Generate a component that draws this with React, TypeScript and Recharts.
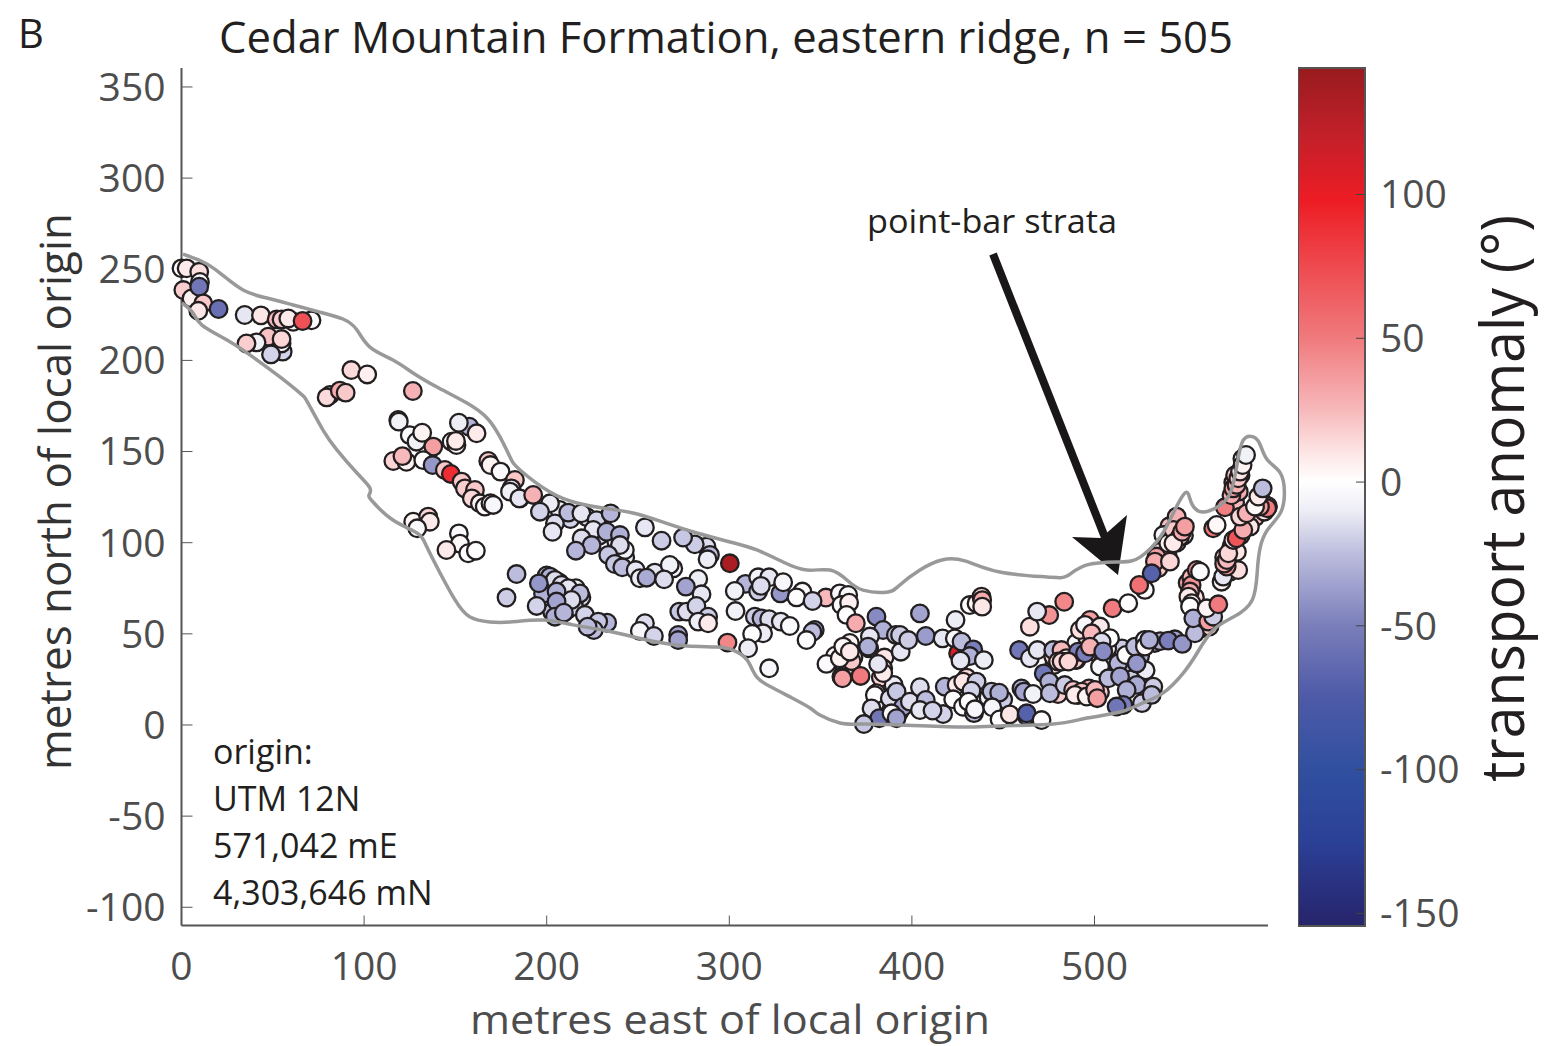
import {
  Bar,
  BarChart,
  ReferenceLine,
  Scatter,
  ScatterChart,
  XAxis,
  YAxis,
} from "recharts";

type Obs = [number, number, number]; // east, north, transport anomaly

const FONT = "'Open Sans', sans-serif";
const INK = "#231f20";
const AXIS_GREY = "#4d4d4d";

const EAST_TICKS = [0, 100, 200, 300, 400, 500];
const NORTH_TICKS = [-100, -50, 0, 50, 100, 150, 200, 250, 300, 350];
const ANOMALY_TICKS = [-150, -100, -50, 0, 50, 100];
const ORIGIN_NOTE = ["origin:", "UTM 12N", "571,042 mE", "4,303,646 mN"];

// anomaly value -> colour
const COLOR_VALUES = [144, 120, 98, 75, 50, 25, 10, 0, -10, -25, -50, -75, -100, -125, -154.4];
const COLOR_STOPS = [
  "#981b1e", "#c4202a", "#ed1c24", "#ee4a4f", "#f07a7d", "#f7b9bb", "#fde6e6", "#ffffff",
  "#ededf6", "#bcbddd", "#7a7eba", "#4d5aa8", "#30509f", "#2b4097", "#27246b",
];

// the crowded stretches, mostly hidden behind the points listed after them
const crowdedBehind: Obs[] = [
  [200, 82, -25], [203, 80, -20], [207, 78, -12], [213, 74, -20], [216, 75, -10], [219, 70, -15],
  [202, 70, -25], [207, 65, -20], [211, 63, -22], [215, 65, -18], [198, 72, -30], [203, 62, -25],
  [207, 118, -10], [222, 114, -12], [213, 113, -18], [229, 104, -18], [238, 101, -12], [243, 92, -10],
  [366, 45, 5], [368, 37, 8], [365, 33, 15], [358, 38, 3], [363, 30, 12], [367, 35, 20],
  [385, 37, 10], [383, 26, 15], [390, 22, -10], [386, 9, -10], [393, 7, -25], [380, 12, -5],
  [430, 26, 15], [426, 19, 5], [437, 12, -10], [442, 15, -8], [450, 14, -20], [460, 20, -30],
  [478, 33, 12], [486, 40, 15], [490, 45, -5], [496, 48, 10], [500, 40, 20], [505, 36, -15],
  [510, 38, -25], [512, 29, -20], [518, 30, -28], [520, 25, -20], [525, 38, -30], [528, 30, -10],
  [533, 45, -25], [515, 42, -20], [480, 17, 18], [497, 20, 30], [503, 18, 20], [507, 42, 8],
  [528, 20, -15], [526, 12, -20], [536, 46, -30], [544, 47, -35], [536, 95, 12], [540, 93, 25],
  [545, 100, 15], [541, 109, 25], [547, 110, 22], [535, 86, 20], [549, 104, 12], [551, 78, 35],
  [553, 81, 25], [555, 70, 12], [556, 62, -20], [558, 53, -30], [560, 59, 10], [563, 54, 20],
  [571, 92, 20], [574, 84, 15], [575, 98, 22], [578, 95, 10], [580, 104, 50], [583, 110, 15],
  [577, 122, 25], [576, 133, 15], [577, 137, 25], [579, 128, 30], [581, 146, -5], [580, 137, 8],
  [588, 114, 20], [592, 122, 15], [593, 117, 10], [595, 120, 40],
];

const westEnd: Obs[] = [
  [0, 250.5, 1], [2.8, 250.5, 8], [9.7, 248.6, 12], [10.1, 243, -5], [1, 238.6, 18], [5.5, 234, 6],
  [9.7, 240.4, -55], [11.9, 231.3, 20], [9.2, 227.2, 10], [20.3, 228.2, -60], [34.6, 224.9, -12], [43.5, 224.7, 10],
  [52.1, 222.5, 25], [54.8, 222.5, 18], [61.2, 221.2, 5], [58.5, 223, 8], [71.2, 222, 1], [66.3, 221.6, 72],
  [55.4, 204.8, -18], [54.8, 209.3, -3], [47.5, 213, 22], [41.1, 209.9, -8], [35.6, 209.3, 18], [49, 203.3, -18],
  [54.8, 211.7, 15], [93, 194.7, 14], [101.7, 192.3, 6], [81.3, 181, 5], [79.5, 179.7, 14], [86.7, 183.4, 30],
  [89.9, 182.3, 20], [126.7, 183.2, 28],
];

const upperBend: Obs[] = [
  [118.7, 167.3, -8], [119, 166.4, -8], [125, 159, -2], [128.7, 155.4, -8], [131.8, 160.3, 5], [137.9, 152.7, 35],
  [116, 144.8, 16], [123.2, 144.4, 5], [121, 147.5, 25], [132.4, 145.3, 1], [137.5, 142.6, -40], [144.2, 139.9, 20],
  [147.5, 137.7, 90], [153.4, 133.5, 20], [157.6, 163.6, -28], [161.6, 160, 8], [151.9, 165.8, -10], [147.9, 155.4, 1],
  [150.6, 153.6, 2], [150.3, 155.8, 8], [168, 144.8, 20], [169.2, 142.6, 5], [174.7, 139, -3], [182.6, 134.4, 20],
  [180.7, 129.8, -12], [185.3, 124.3, -10], [155.2, 129.8, 18], [160.7, 128.9, 20], [159, 124.3, 15], [163.4, 121.6, 5],
  [166.1, 119.8, 1], [169.2, 121.6, -3], [170.7, 120.7, -5],
];

const lowerBend: Obs[] = [
  [126.9, 111.5, 4], [135.1, 114.3, 16], [136, 111.5, 8], [129.1, 107.9, -3], [151.9, 105.1, -2], [152.5, 99.5, 2],
  [145.1, 96, 9], [157, 94.2, 1], [161.2, 95.6, -1],
];

const midUpper: Obs[] = [
  [179.9, 128, -8], [185, 124.3, -12], [192.6, 126.2, 28], [201.8, 121.6, -10], [196.3, 117, -18], [204.5, 110.6, -15],
  [203.2, 106, -12], [211.8, 116.5, -25], [219, 116.1, -12], [227.3, 112.4, -18], [235, 116.1, -28], [225.5, 107, -12],
  [232.8, 106, -30], [240.1, 104.2, -30], [219.1, 102.4, -15], [224.6, 98.7, -28], [216, 95.6, -28], [242.8, 96, -8],
  [240.1, 98.7, -15], [233.7, 93.3, -22], [237.3, 88.3, -22], [241.4, 86.5, -25], [248.7, 85, -12], [251, 80.5, -10],
  [259.2, 83.6, -12], [254.7, 80.8, -32], [269.3, 85.9, -5], [267.4, 87.8, -8], [264.3, 79.9, -15], [253.8, 108.4, -12],
  [262.9, 101.1, -20], [287.5, 97.8, -15], [281.1, 99.1, -20], [274.7, 102.8, -22], [289.4, 93.3, -25], [288.1, 90.9, -10],
  [300.3, 88.7, 135],
];

const midLower: Obs[] = [
  [183.5, 82.8, -25], [178, 69.9, -20], [201.8, 81.4, -30], [204.5, 79.6, -15], [195.7, 77.7, -40], [208.1, 76.8, -15],
  [211.8, 75, -12], [218.2, 72.2, -25], [205.4, 73.2, -30], [213.6, 68.6, -15], [194.5, 65.3, -18], [205.4, 67.7, -35],
  [204.5, 59.4, -30], [209.4, 61.6, -28], [220.9, 60.4, -18], [233.1, 56.1, -28], [228.2, 56.7, -22], [225.8, 52.1, -25],
  [222.4, 53.9, -25], [253.8, 55.8, -15], [251, 51.6, -5], [258.7, 48.8, -18], [272, 49.4, -35], [272, 46.6, -35],
];

const centreReach: Obs[] = [
  [283, 80.1, -10], [276.2, 75.9, -35], [284.8, 71.7, -12], [272.6, 62.2, -22], [276.6, 62.2, -15], [282, 65.3, -18],
  [288.4, 59.4, -20], [283, 56.7, -10], [288.4, 55.8, 8], [299, 45.2, 45], [308.9, 77.4, -28], [303, 73.5, -8],
  [315.8, 81, -8], [321.8, 81, -12], [315.8, 73.2, -20], [317.3, 76.3, -15], [328, 72.2, -40], [329.5, 78.3, -5],
  [340, 73.2, -2], [336.8, 70, -1], [352.9, 69.9, 25], [345.6, 68, -18], [360.5, 72.2, -5], [365.1, 71.3, -3],
  [361.4, 65.8, -2], [365.6, 67.1, 6], [364.2, 60.4, 0], [303.4, 62.5, -8], [314, 59.4, -20], [317.6, 58.5, -28],
  [321.8, 58, -15], [328.2, 56.7, -12], [333.1, 54.3, -2], [318.5, 50.3, -10], [312.5, 49.9, -1], [346.8, 52.1, -40],
  [345.5, 51, -25], [342.3, 46.6, -2], [310.3, 42.1, -10], [321.8, 31.1, -5],
];

const scrollBarWest: Obs[] = [
  [369.3, 55.8, 30], [380.6, 59.4, -45], [384.2, 52.1, -30], [377, 48.5, -12], [376.6, 42, -25], [376, 43, -30],
  [353.2, 33.5, -2], [360.5, 36.6, 5], [362.4, 43, 3], [366, 40.2, 9], [361.4, 26.5, 40], [362, 25.6, 35],
  [371.9, 26.9, 50], [384.3, 31.1, 20], [384.3, 28.5, 8], [381.5, 33.5, -12], [380.6, 17.4, -1], [379.7, 16.4, 0],
  [387.9, 14.6, -15], [391.6, 18.3, -22], [377.9, 9.1, -15], [382.1, 3.7, -55], [395.2, 10, -35], [398.9, 12.8, -15],
  [388.8, 6.4, -3], [391.6, 3.7, -35], [373.7, 0.5, -22],
];

const scrollBarCentre: Obs[] = [
  [404.4, 61.2, -35], [393.9, 40.2, -12], [391.2, 49.4, -25], [393.5, 49.4, -20], [398, 46.6, -20], [407.6, 48.8, -38],
  [416.8, 47.5, -12], [423.9, 57.6, -10], [423.5, 47.5, -5], [425.3, 39.3, 110], [427.2, 45.7, -25], [433.6, 41.5, -50],
  [431.7, 37.8, -30], [426.6, 35.3, -12], [439.4, 35.6, -10], [431.7, 65.8, 1], [435.4, 66.7, 5], [438.1, 70.4, 15],
  [438.5, 68.5, 30], [438.5, 64.9, 10], [404.4, 20.7, -15], [407.6, 13.7, -25], [404.4, 8.2, -12], [417.1, 6, -18],
  [411.3, 7.9, -18], [418, 21, -28], [424.5, 22, 8], [428.1, 23.8, 10], [435.4, 23.8, -20], [422.6, 14.1, 1],
  [428, 10, -2], [434, 6.5, -25], [432.6, 18.8, -18], [431, 12.8, 1], [434.5, 8.6, -5],
];

const scrollBarEast: Obs[] = [
  [443.6, 18.3, -25], [447.8, 17.7, -30], [444, 9.7, -5], [448, 3, 1], [453.6, 5.8, 10], [461.3, 18.3, -35],
  [466.4, 17, -8], [462.8, 5, -55], [462.9, 6.4, -70], [471, 2.7, 1], [458.7, 41.1, -55], [464.6, 36.6, -12],
  [468.8, 41.1, -12], [464.6, 53.9, 12], [475.2, 60.3, 40], [468.6, 62.2, -12], [483.4, 67.6, 45], [477.4, 37.5, 20],
  [477.4, 41.1, -25], [481.9, 41.1, 25], [480, 34.8, 15], [484.6, 36.6, 8], [490.1, 35.6, 10], [489.3, 35.7, 20],
  [491, 40.2, -50], [472.2, 28.3, -55], [475.2, 23.8, -30], [475.6, 17.4, -25], [483.7, 21.9, -20], [488.3, 19.2, 22],
  [491, 16.4, 22], [493, 18.3, 20], [489.3, 16.5, 8], [495.7, 15.6, 5], [500.3, 19.2, 25], [501.5, 14.7, 35],
];

const pointBarLobe: Obs[] = [
  [492, 52.1, 12], [497.5, 57.6, 35], [494.8, 54.9, -5], [503, 54, 8], [498.4, 50.3, 25], [508.5, 47.6, 0],
  [503.9, 45.7, -15], [494.8, 39.3, -50], [497.5, 43, 28], [482, 34.8, 15], [485.7, 34.8, 15], [503, 32, -5],
  [504.8, 40.3, -45], [507.6, 25.6, -25], [513, 33.8, -28], [517.2, 38.4, 1], [514, 26.6, -35], [522.2, 43, -25],
  [523.1, 33.8, -40], [527.6, 46.7, -5], [527.6, 43, 3], [530, 46.7, -30], [540.4, 46.3, -50], [548.1, 44.5, -40],
  [555, 50.3, -25], [523.1, 22, -32], [532.2, 21, -20], [531.3, 16.5, -25], [517.6, 19.2, -30], [515.8, 11, -50],
  [512.1, 10.1, -55],
];

const eastLimbUpper: Obs[] = [
  [509.9, 64, 50], [518.5, 66.8, 1], [527.6, 74.1, 1], [524.5, 76.8, 55], [534, 92.4, 35], [533.1, 89.6, 30],
  [531.3, 83.2, -70], [541.3, 89.6, 15], [537.7, 104.2, -5], [540.4, 99.7, 5], [545, 114.3, 28], [543.2, 107, 20],
  [546.8, 103.3, 20], [543.2, 99.7, 8], [548, 106, 30], [549.5, 108.8, 35],
];

const eastLimb: Obs[] = [
  [553.2, 76.8, 40], [552.3, 73.2, 30], [551.4, 70.4, 8], [553.2, 66.8, -8], [552.3, 65, 0], [554.1, 58.5, -30],
  [562.3, 56.7, 35], [565, 59.4, -20], [561.4, 64, 5], [567.8, 66.2, 50], [556, 85, 40], [557.8, 84.1, -2],
  [569.6, 78.6, 5], [570.5, 81.4, -12], [578.7, 85, 12], [572.4, 86.9, 40], [571, 88.5, 30], [572.5, 90.5, 25],
  [573.3, 94.2, 15], [576, 101.5, 10], [577.8, 102.4, 70], [585.1, 108.8, 10], [581.5, 107, 30], [565, 107.9, 50],
  [566.9, 109.7, 3], [579.7, 114.3, 15], [583.3, 116.1, 28], [594.6, 118.9, 50], [590.6, 119.8, 35], [587.9, 119.8, 2],
  [589.7, 125.3, 8], [592.1, 129.8, -25], [571.4, 119.4, 48], [575, 126, 30], [576, 129.8, 35], [577.8, 131.7, 28],
  [578.7, 135.3, 20], [579.7, 139, 10], [581.1, 142.6, 5], [583, 148.1, -8],
];

const OBSERVATIONS: Obs[] = [
  ...crowdedBehind, ...westEnd, ...upperBend, ...lowerBend, ...midUpper, ...midLower, ...centreReach,
  ...scrollBarWest, ...scrollBarCentre, ...scrollBarEast, ...pointBarLobe, ...eastLimbUpper, ...eastLimb,
];

const OUTLINE: [number, number][] = [
  [0.8, 258.3], [11.8, 254], [21.1, 247.9], [33.7, 238.6], [46.8, 234.2], [61.1, 230.4], [75.8, 226.5], [88.4, 222.7],
  [96.1, 216.7], [103.2, 207.3], [115.8, 200.2], [126.8, 193.1], [139.9, 185.4], [156.3, 176.6], [167.3, 168.4],
  [174.4, 158], [179.9, 147], [185.4, 139.9], [201.8, 127.8], [216.6, 121.8], [230.8, 119], [247.2, 116.3],
  [263.7, 111.3], [282.3, 105.3], [300.4, 100.4], [315.1, 96], [329.4, 89.4], [342.5, 85], [355.1, 85], [364.4, 79.5],
  [373.2, 74], [386.9, 73], [393.4, 76.8], [404.4, 85], [416.4, 90.5], [429, 90], [448.2, 83.9], [474, 81.2],
  [484.9, 81.7], [495.9, 87.8], [514, 89.4], [525, 92.1], [536, 103.1], [543.2, 116.3], [548.6, 126.2], [551.4, 126.7],
  [553.6, 120.7], [559.1, 116.8], [567.3, 119.6], [574.4, 127.3], [578.2, 143.7], [581.5, 156.3], [587, 158],
  [590.8, 153.6], [594.7, 145.4], [601.8, 138.2], [604, 127.3], [601.8, 116.3], [594.7, 107], [590.8, 97.6], [589.2, 85],
  [586.4, 68.6], [576, 59.2], [565, 52.1], [556.2, 39.5], [548.6, 28.5], [537.6, 17.6], [526.6, 12.1], [514, 7.1],
  [495.9, 3.8], [477.3, 0.5], [448.2, -0.5], [426.3, -1.1], [393.4, 0], [371.5, 0.5], [360.6, 1.1], [349.6, 5.5],
  [344.2, 9.3], [333.2, 15.4], [323.9, 20.3], [315.1, 26.3], [309.7, 35.7], [302, 41.1], [293.2, 42.8], [276.8, 43.3],
  [260.4, 45.5], [245.6, 48.8], [230.8, 52.1], [214.4, 54.9], [198, 57.6], [179.9, 56.5], [168.9, 56.5], [158, 59.2],
  [149.8, 68.6], [141.6, 83.4], [134.4, 97.6], [129, 105.3], [115.8, 112.4], [104.9, 122.3], [102.7, 126.2], [103.2, 130],
  [96.1, 138.2], [85.2, 150.8], [77.5, 161.8], [69.3, 176.6], [64.9, 182.1], [53.9, 190.9], [39.2, 201.8], [24.9, 211.2],
  [11.2, 219.4], [6.3, 226], [0.3, 231.5],
];

const points = OBSERVATIONS.map(([east, north, anomaly]) => ({ east, north, anomaly }));
const outline = OUTLINE.map(([east, north]) => ({ east, north }));
const barData = [{ name: "transport anomaly", span: [COLOR_VALUES[COLOR_VALUES.length - 1], COLOR_VALUES[0]] }];

function hexToRgb(hex: string) {
  return [1, 3, 5].map((i) => parseInt(hex.slice(i, i + 2), 16));
}

function anomalyColor(v: number): string {
  for (let i = 1; i < COLOR_VALUES.length; i++) {
    if (v >= COLOR_VALUES[i]) {
      const t = (v - COLOR_VALUES[i]) / (COLOR_VALUES[i - 1] - COLOR_VALUES[i]);
      const a = hexToRgb(COLOR_STOPS[i]);
      const b = hexToRgb(COLOR_STOPS[i - 1]);
      return `rgb(${a.map((c, k) => Math.round(c + (b[k] - c) * t)).join(",")})`;
    }
  }
  return COLOR_STOPS[COLOR_STOPS.length - 1];
}

function Dot(props: any) {
  return (
    <circle
      cx={props.cx}
      cy={props.cy}
      r={8.8}
      fill={anomalyColor(props.payload.anomaly)}
      stroke={INK}
      strokeWidth={2.3}
    />
  );
}

export default function App() {
  const tick = { fill: AXIS_GREY, fontSize: 39, fontFamily: FONT };
  return (
    <div style={{ position: "absolute", left: 0, top: 0, width: 1558, height: 1046, background: "#fff" }}>
      <div style={{ position: "absolute", left: 0, top: 0 }}>
        <ScatterChart width={1558} height={1046} margin={{ top: 68, right: 273.6, bottom: 0, left: 0 }}>
          <XAxis
            type="number"
            dataKey="east"
            domain={[0, 604]}
            ticks={EAST_TICKS}
            height={120.5}
            axisLine={false}
            tickSize={-10}
            tickMargin={37}
            tick={tick}
            stroke="#555"
            interval={0}
          />
          <YAxis
            type="number"
            dataKey="north"
            domain={[-110, 360.4]}
            ticks={NORTH_TICKS}
            width={181.5}
            axisLine={{ stroke: "#555", strokeWidth: 2 }}
            tickSize={-11}
            tickMargin={27}
            tick={tick}
            stroke="#555"
            interval={0}
          />
          <ReferenceLine
            segment={[{ x: 0, y: -110 }, { x: 595, y: -110 }]}
            stroke="#555"
            strokeWidth={2}
          />
          <Scatter data={points} shape={Dot} isAnimationActive={false} />
          <Scatter
            data={outline}
            line={{ stroke: "#999999", strokeWidth: 3.5 }}
            lineJointType="natural"
            shape={() => <g />}
            isAnimationActive={false}
          />

          <line x1={993} y1={254} x2={1106} y2={540} stroke="#1a1718" strokeWidth={8} />
          <polygon points="1118,575 1072,537 1101,538 1127,515" fill="#1a1718" />

          <text x={18} y={48} fontFamily={FONT} fontSize={40} fill={INK}>B</text>
          <text x={219} y={53} fontFamily={FONT} fontSize={44} fill={INK} textLength={1014} lengthAdjust="spacingAndGlyphs">
            Cedar Mountain Formation, eastern ridge, n = 505
          </text>
          <text x={867} y={233} fontFamily={FONT} fontSize={33} fill={INK} textLength={250} lengthAdjust="spacingAndGlyphs">
            point-bar strata
          </text>
          {ORIGIN_NOTE.map((line, i) => (
            <text key={line} x={213} y={764 + i * 47} fontFamily={FONT} fontSize={34} fill={INK}>
              {line}
            </text>
          ))}
          <text x={470} y={1034} fontFamily={FONT} fontSize={41} fill={AXIS_GREY} textLength={520} lengthAdjust="spacingAndGlyphs">
            metres east of local origin
          </text>
          <text
            transform="translate(71 770) rotate(-90)"
            fontFamily={FONT}
            fontSize={44}
            fill="#333"
            textLength={557}
            lengthAdjust="spacingAndGlyphs"
          >
            metres north of local origin
          </text>
          <text
            transform="translate(1524 782) rotate(-90)"
            fontFamily={FONT}
            fontSize={60}
            fill={INK}
            textLength={567}
            lengthAdjust="spacingAndGlyphs"
          >
            transport anomaly (°)
          </text>
        </ScatterChart>
      </div>

      <div style={{ position: "absolute", left: 1298, top: 0 }}>
        <BarChart
          width={260}
          height={1046}
          data={barData}
          barCategoryGap={0}
          margin={{ top: 68, right: 0, bottom: 120, left: 0 }}
        >
          <defs>
            <linearGradient id="anomalyRamp" x1="0" y1="0" x2="0" y2="1">
              {COLOR_VALUES.map((v, i) => (
                <stop key={v} offset={(COLOR_VALUES[0] - v) / (COLOR_VALUES[0] - COLOR_VALUES[COLOR_VALUES.length - 1])} stopColor={COLOR_STOPS[i]} />
              ))}
            </linearGradient>
          </defs>
          <XAxis dataKey="name" hide />
          <YAxis
            orientation="right"
            type="number"
            domain={[COLOR_VALUES[COLOR_VALUES.length - 1], COLOR_VALUES[0]]}
            ticks={ANOMALY_TICKS}
            width={193}
            axisLine={false}
            tickSize={-9}
            tickMargin={24}
            tick={tick}
            stroke="#444"
            interval={0}
          />
          <Bar dataKey="span" fill="url(#anomalyRamp)" stroke="#555" strokeWidth={2} isAnimationActive={false} />
        </BarChart>
      </div>
    </div>
  );
}
